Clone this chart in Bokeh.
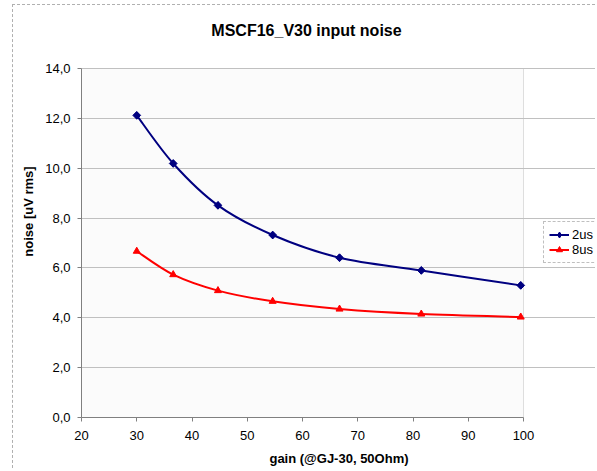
from bokeh.plotting import figure
from bokeh.models import Legend, LegendItem, FixedTicker, CustomJSTickFormatter, Range1d, BoxAnnotation, Label
from bokeh.embed import file_html
from bokeh.resources import INLINE

gain = [30.0, 36.6, 44.7, 54.6, 66.7, 81.5, 99.5]
noise_2us = [12.12, 10.19, 8.51, 7.32, 6.41, 5.90, 5.30]
noise_8us = [6.67, 5.73, 5.09, 4.66, 4.35, 4.15, 4.03]
series_names = ["2us", "8us"]
title_text = "MSCF16_V30 input noise"
x_ticks = [20, 30, 40, 50, 60, 70, 80, 90, 100]
y_ticks = [0, 2, 4, 6, 8, 10, 12, 14]
x_lo, x_hi = 20, 100
y_lo, y_hi = 0, 14

FONT = "Liberation Sans"

W, H = 583, 464
MB_L, MB_R, MB_T, MB_B = 68, 0, 0, 52
PLOT_W, PLOT_H = 442, 349  # pixel size of the 20..100 x 0..14 plot area
frame_w = W - MB_L - MB_R
frame_h = H - MB_T - MB_B
px_x = PLOT_W / (x_hi - x_lo)
px_y = PLOT_H / (y_hi - y_lo)
x_end = x_lo + frame_w / px_x
y_end = y_lo + frame_h / px_y

p = figure(width=W, height=H, output_backend="svg", toolbar_location=None, title=None,
           x_range=Range1d(x_lo, x_end), y_range=Range1d(y_lo, y_end),
           min_border_left=MB_L, min_border_right=MB_R, min_border_top=MB_T, min_border_bottom=MB_B)
p.styles = {"border-top": "1px dashed #b0b0b0", "border-left": "1px dashed #b0b0b0",
            "margin-left": "12px", "margin-top": "4px"}

p.background_fill_color = "#ffffff"
p.border_fill_color = "#ffffff"
p.outline_line_color = None

p.add_layout(BoxAnnotation(left=x_lo, right=x_hi, bottom=y_lo, top=y_hi,
                           fill_color="#fbfbfb", fill_alpha=1.0,
                           line_color="#999999", line_width=1, level="image"))

# chart title, placed 38px above the plot area, centred at ~225px from its left edge
p.add_layout(Label(x=x_lo + 225 / px_x, y=y_hi + 38 / px_y, text=title_text,
                   text_align="center", text_baseline="middle",
                   text_font=FONT, text_font_size="16px", text_font_style="bold",
                   text_color="#000000"))

for ax in (p.xaxis, p.yaxis):
    ax.axis_line_color = "#808080"
    ax.major_tick_line_color = "#808080"
    ax.minor_tick_line_color = None
    ax.major_tick_out = 4
    ax.major_tick_in = 0
    ax.major_label_text_font = FONT
    ax.major_label_text_font_size = "13px"
    ax.major_label_text_color = "#000000"
    ax.axis_label_text_font = FONT
    ax.axis_label_text_font_size = "13px"
    ax.axis_label_text_font_style = "bold"
    ax.axis_label_text_color = "#000000"

p.xaxis.bounds = (x_lo, x_hi)
p.yaxis.bounds = (y_lo, y_hi)
p.xaxis.ticker = FixedTicker(ticks=x_ticks)
p.yaxis.ticker = FixedTicker(ticks=y_ticks)
p.yaxis.formatter = CustomJSTickFormatter(code="return tick.toFixed(1).replace('.', ',');")
p.xaxis.axis_label = "gain (@GJ-30, 50Ohm)"
p.yaxis.axis_label = "noise [uV rms]"
p.xaxis.major_label_standoff = 9
p.xaxis.axis_label_standoff = 8
p.yaxis.major_label_standoff = 7
p.yaxis.axis_label_standoff = 6

p.xgrid.grid_line_color = None
p.ygrid.grid_line_color = "#c0c0c0"
p.ygrid.grid_line_width = 1
p.ygrid.bounds = (x_lo, x_hi)


def bezier_segments(xs, ys):
    n = len(xs)
    x0, y0, x1, y1, cx0, cy0, cx1, cy1 = [], [], [], [], [], [], [], []
    for i in range(n - 1):
        im = max(i - 1, 0)
        ip2 = min(i + 2, n - 1)
        x0.append(xs[i]); y0.append(ys[i])
        x1.append(xs[i + 1]); y1.append(ys[i + 1])
        cx0.append(xs[i] + (xs[i + 1] - xs[im]) / 6.0)
        cy0.append(ys[i] + (ys[i + 1] - ys[im]) / 6.0)
        cx1.append(xs[i + 1] - (xs[ip2] - xs[i]) / 6.0)
        cy1.append(ys[i + 1] - (ys[ip2] - ys[i]) / 6.0)
    return dict(x0=x0, y0=y0, x1=x1, y1=y1, cx0=cx0, cy0=cy0, cx1=cx1, cy1=cy1)


c_blue = "#000080"
c_red = "#ff0000"

b1 = p.bezier(line_color=c_blue, line_width=2, **bezier_segments(gain, noise_2us))
# diamond used for the legend swatch (legend swatches ignore marker rotation); sits under the squares
k1 = p.scatter(gain, noise_2us, marker="diamond", size=7, fill_color=c_blue, line_color=c_blue)
s1 = p.scatter(gain, noise_2us, marker="square", angle=0.785398, size=5.5,
               fill_color=c_blue, line_color=c_blue)
b2 = p.bezier(line_color=c_red, line_width=2, **bezier_segments(gain, noise_8us))
s2 = p.scatter(gain, noise_8us, marker="triangle", size=7, fill_color=c_red, line_color=c_red)

legend = Legend(items=[LegendItem(label=series_names[0], renderers=[b1, k1]),
                       LegendItem(label=series_names[1], renderers=[b2, s2])],
                location=(462, 154))
legend.label_text_font = FONT
legend.label_text_font_size = "13px"
legend.label_text_color = "#000000"
legend.glyph_width = 20
legend.glyph_height = 15
legend.label_standoff = 3
legend.label_height = 15
legend.spacing = 0
legend.padding = 5
legend.margin = 0
legend.border_line_color = "#808080"
legend.border_line_dash = "2 1"
legend.background_fill_color = "#ffffff"
p.add_layout(legend, "center")

open("out.html", "w").write(file_html(p, INLINE))
